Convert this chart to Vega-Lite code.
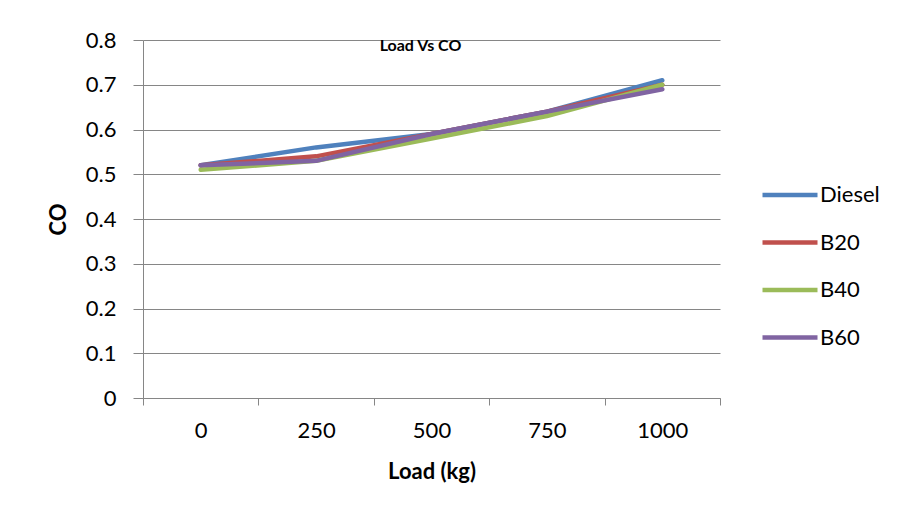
{
  "$schema": "https://vega.github.io/schema/vega-lite/v6.json",
  "width": 577,
  "height": 358,
  "autosize": "none",
  "padding": {"left": 143, "top": 40, "right": 179, "bottom": 114},
  "background": "white",
  "title": {
    "text": "Load Vs CO",
    "font": "Lato",
    "fontSize": 16,
    "fontWeight": "bold",
    "color": "black",
    "anchor": "middle",
    "offset": -25,
    "dx": -11
  },
  "data": {
    "values": [
      {"load": "0", "series": "Diesel", "co": 0.52},
      {"load": "250", "series": "Diesel", "co": 0.56},
      {"load": "500", "series": "Diesel", "co": 0.59},
      {"load": "750", "series": "Diesel", "co": 0.64},
      {"load": "1000", "series": "Diesel", "co": 0.71},
      {"load": "0", "series": "B20", "co": 0.52},
      {"load": "250", "series": "B20", "co": 0.54},
      {"load": "500", "series": "B20", "co": 0.59},
      {"load": "750", "series": "B20", "co": 0.64},
      {"load": "1000", "series": "B20", "co": 0.70},
      {"load": "0", "series": "B40", "co": 0.51},
      {"load": "250", "series": "B40", "co": 0.53},
      {"load": "500", "series": "B40", "co": 0.58},
      {"load": "750", "series": "B40", "co": 0.63},
      {"load": "1000", "series": "B40", "co": 0.70},
      {"load": "0", "series": "B60", "co": 0.52},
      {"load": "250", "series": "B60", "co": 0.53},
      {"load": "500", "series": "B60", "co": 0.59},
      {"load": "750", "series": "B60", "co": 0.64},
      {"load": "1000", "series": "B60", "co": 0.69}
    ]
  },
  "mark": {"type": "line", "strokeWidth": 4.5, "strokeCap": "round", "strokeJoin": "round"},
  "encoding": {
    "x": {
      "field": "load",
      "type": "ordinal",
      "sort": ["0", "250", "500", "750", "1000"],
      "bandPosition": 0.5,
      "scale": {"type": "band", "paddingInner": 0, "paddingOuter": 0},
      "axis": {
        "title": "Load (kg)",
        "labelAngle": 0,
        "tickBand": "extent",
        "tickSize": 7,
        "tickColor": "#868686",
        "domainColor": "#868686",
        "labelFont": "Lato",
        "labelFontSize": 22,
        "labelColor": "black",
        "labelPadding": 15,
        "titleFont": "Lato",
        "titleFontSize": 22,
        "titleFontWeight": "bold",
        "titleColor": "black",
        "titlePadding": 20,
        "grid": false
      }
    },
    "y": {
      "field": "co",
      "type": "quantitative",
      "scale": {"domain": [0, 0.8], "nice": false, "zero": true},
      "axis": {
        "title": "CO",
        "values": [0, 0.1, 0.2, 0.3, 0.4, 0.5, 0.6, 0.7, 0.8],
        "format": "~g",
        "tickSize": 10,
        "tickColor": "#868686",
        "domainColor": "#868686",
        "gridColor": "#868686",
        "grid": true,
        "labelFont": "Lato",
        "labelFontSize": 22,
        "labelColor": "black",
        "labelPadding": 17,
        "titleFont": "Lato",
        "titleFontSize": 22,
        "titleFontWeight": "bold",
        "titleColor": "black",
        "titlePadding": 15
      }
    },
    "color": {
      "field": "series",
      "type": "nominal",
      "sort": ["Diesel", "B20", "B40", "B60"],
      "scale": {
        "domain": ["Diesel", "B20", "B40", "B60"],
        "range": ["#4F81BD", "#C0504D", "#9BBB59", "#8064A2"]
      },
      "legend": {
        "title": null,
        "orient": "none",
        "legendX": 617,
        "legendY": 125,
        "symbolType": "stroke",
        "symbolSize": 3025,
        "symbolStrokeWidth": 4.5,
        "rowPadding": 6.5,
        "labelFont": "Lato",
        "labelFontSize": 22,
        "labelColor": "black",
        "labelOffset": 0
      }
    }
  },
  "config": {
    "view": {"stroke": null},
    "axis": {"gridWidth": 1, "domainWidth": 1, "tickWidth": 1}
  }
}
